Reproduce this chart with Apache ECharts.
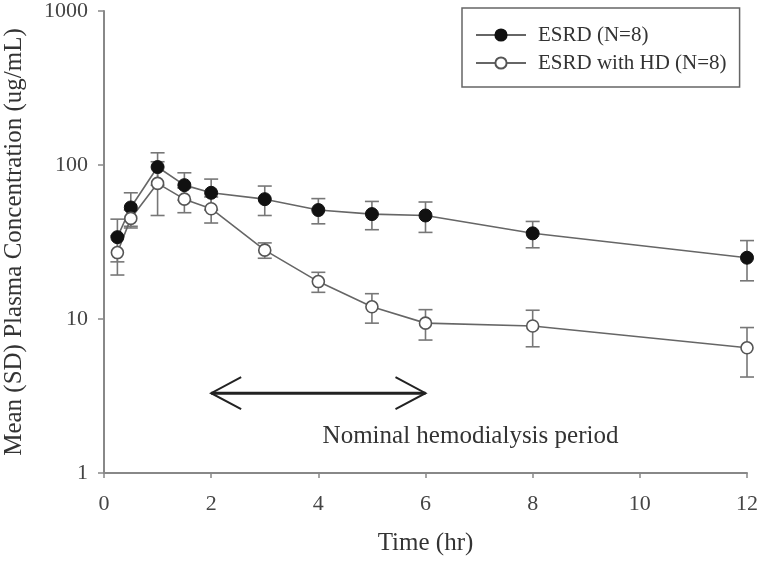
<!DOCTYPE html>
<html><head><meta charset="utf-8">
<script src="https://cdn.jsdelivr.net/npm/echarts@6/dist/echarts.min.js"></script>
<style>html,body{margin:0;padding:0;background:#fff}#c{width:760px;height:564px}</style>
</head><body><div id="c"></div>
<script>
var times = [0.25, 0.5, 1, 1.5, 2, 3, 4, 5, 6, 8, 12];
var esrdMean = [34, 53, 97, 74, 66, 60, 51, 48, 47, 36, 25];
var esrdSD   = [10.5, 13, 23, 15, 15, 13, 9.5, 10, 10.5, 7, 7.3];
var hdMean   = [27, 45, 76, 60, 52, 28, 17.5, 12, 9.4, 9.0, 6.5];
var hdSD     = [7.7, 6, 29, 11, 10, 3.2, 2.6, 2.6, 2.1, 2.4, 2.3];
var xTicks = [0, 2, 4, 6, 8, 10, 12];
var yTicks = [1, 10, 100, 1000];
var arrowSpan = [2, 6, 3.3];        // start, end, level
var noteText = 'Nominal hemodialysis period';
var notePos = [6.84, 1.74];

var FONT = 'Liberation Serif';
function pairs(m){ return times.map(function(t,i){ return [t, m[i]]; }); }
function errData(m, s){ return times.map(function(t,i){ return [t, m[i]-s[i], m[i]+s[i]]; }); }

function errRender(params, api){
  var x = api.value(0);
  var lo = api.coord([x, api.value(1)]);
  var hi = api.coord([x, api.value(2)]);
  var w = 7;
  var st = {stroke:'#777', lineWidth:1.6};
  return {type:'group', children:[
    {type:'line', shape:{x1:lo[0],y1:lo[1],x2:hi[0],y2:hi[1]}, style:st},
    {type:'line', shape:{x1:lo[0]-w,y1:lo[1],x2:lo[0]+w,y2:lo[1]}, style:st},
    {type:'line', shape:{x1:hi[0]-w,y1:hi[1],x2:hi[0]+w,y2:hi[1]}, style:st}
  ]};
}

var chart = echarts.init(document.getElementById('c'));
chart.setOption({
  animation:false,
  grid:{left:104, right:13, top:11, bottom:91, containLabel:false, outerBoundsMode:'none'},
  legend:{
    left:462, top:8, orient:'vertical',
    padding:[15,13,12,13], itemGap:4, itemWidth:50, itemHeight:14,
    borderColor:'#666', borderWidth:1.5,
    textStyle:{fontFamily:FONT, fontSize:21, color:'#333', lineHeight:24, padding:[0,0,0,7]},
    data:['ESRD (N=8)','ESRD with HD (N=8)']
  },
  xAxis:{
    type:'value', min:0, max:12, interval:2,
    name:'Time (hr)', nameLocation:'middle', nameGap:58,
    nameTextStyle:{fontFamily:FONT, fontSize:25, color:'#333'},
    axisLine:{show:true, lineStyle:{color:'#888', width:2}},
    axisTick:{show:true, length:5, lineStyle:{color:'#888', width:1.5}},
    axisLabel:{fontFamily:FONT, fontSize:22, color:'#444', margin:20},
    splitLine:{show:false}
  },
  yAxis:{
    type:'log', logBase:10, min:1, max:1000,
    name:'Mean (SD) Plasma Concentration (ug/mL)', nameLocation:'middle', nameGap:77,
    nameTextStyle:{fontFamily:FONT, fontSize:25, color:'#333'},
    axisLine:{show:true, lineStyle:{color:'#888', width:2}},
    axisTick:{show:true, length:6, lineStyle:{color:'#888', width:1.5}},
    axisLabel:{fontFamily:FONT, fontSize:22, color:'#444', margin:16,
      formatter:function(v){ return String(Math.round(v)); }},
    minorTick:{show:false},
    splitLine:{show:false}
  },
  series:[
    {type:'custom', name:'errE', renderItem:errRender, data:errData(esrdMean, esrdSD), z:1, silent:true},
    {type:'custom', name:'errH', renderItem:errRender, data:errData(hdMean, hdSD), z:1, silent:true},
    {type:'line', name:'ESRD (N=8)', data:pairs(esrdMean), symbol:'circle', symbolSize:13,
      lineStyle:{color:'#666', width:1.6}, itemStyle:{color:'#111', borderColor:'#111', borderWidth:1}, z:3},
    {type:'line', name:'ESRD with HD (N=8)', data:pairs(hdMean), symbol:'circle', symbolSize:12,
      lineStyle:{color:'#666', width:1.6}, itemStyle:{color:'#fff', borderColor:'#555', borderWidth:1.6}, z:3},
    {type:'custom', name:'annot', silent:true, z:4,
      data:[[arrowSpan[0], arrowSpan[2], arrowSpan[1], notePos[0], notePos[1]]],
      renderItem:function(params, api){
        var a = api.coord([api.value(0), api.value(1)]);
        var b = api.coord([api.value(2), api.value(1)]);
        var t = api.coord([api.value(3), api.value(4)]);
        var dx = 30, dy = 16;
        var s = {stroke:'#222', lineWidth:2, fill:null};
        return {type:'group', children:[
          {type:'line', shape:{x1:a[0],y1:a[1],x2:b[0],y2:b[1]}, style:{stroke:'#222', lineWidth:3}},
          {type:'polyline', shape:{points:[[a[0]+dx,a[1]-dy],[a[0],a[1]],[a[0]+dx,a[1]+dy]]}, style:s},
          {type:'polyline', shape:{points:[[b[0]-dx,b[1]-dy],[b[0],b[1]],[b[0]-dx,b[1]+dy]]}, style:s},
          {type:'text', x:t[0], y:t[1], style:{text:noteText, fontFamily:FONT, fontSize:25, fill:'#333', align:'center', verticalAlign:'middle'}}
        ]};
      }
    }
  ]
});
</script></body></html>
